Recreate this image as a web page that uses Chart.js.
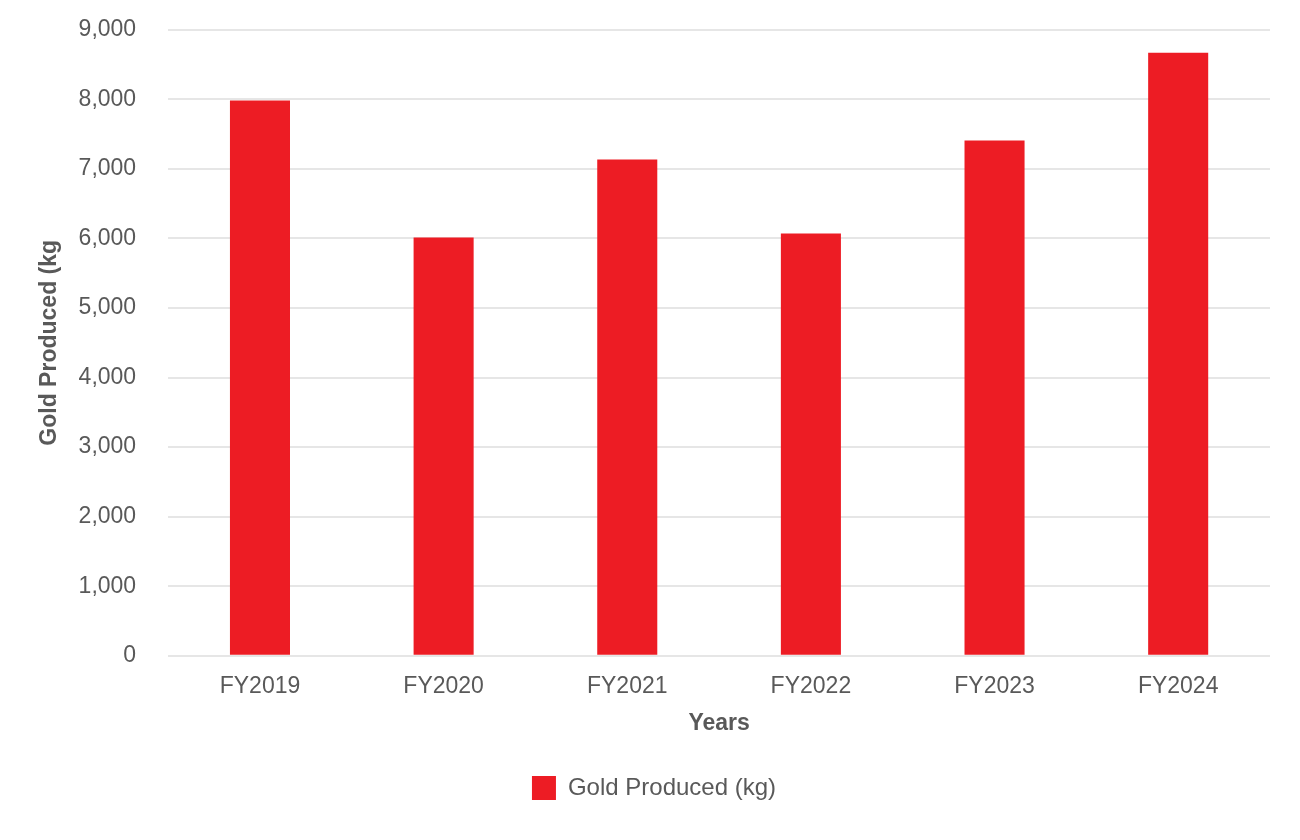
<!DOCTYPE html>
<html>
<head>
<meta charset="utf-8">
<script src="https://cdn.jsdelivr.net/npm/chart.js@4"></script>
<style>
  html, body { margin: 0; padding: 0; background: #fff; }
  #wrap { width: 1300px; height: 840px; }
</style>
</head>
<body>
<div id="wrap"><canvas id="grafico"></canvas></div>
<script>
const anos = ["FY2019", "FY2020", "FY2021", "FY2022", "FY2023", "FY2024"];
const ouroProduzido = [7985, 6015, 7135, 6070, 7410, 8670];
const serieNome = "Gold Produced (kg)";
const tituloY = "Gold Produced (kg";
const tituloX = "Years";

const corTexto = "#595959";
const fonte = "Arial, 'Liberation Sans', sans-serif";

new Chart(document.getElementById("grafico").getContext("2d"), {
  type: "bar",
  data: {
    labels: anos,
    datasets: [
      {
        label: serieNome,
        data: ouroProduzido,
        backgroundColor: "#ED1C24",
        borderWidth: 0,
        barPercentage: 0.327,
        categoryPercentage: 1,
      },
    ],
  },
  options: {
    responsive: true,
    maintainAspectRatio: false,
    animation: false,
    layout: { padding: { top: 0, right: 30, left: 38, bottom: 30 } },
    plugins: {
      tooltip: { enabled: false },
      legend: {
        position: "bottom",
        labels: {
          color: corTexto,
          font: { family: fonte, size: 24 },
          boxWidth: 24,
          boxHeight: 24,
          padding: 14,
        },
      },
    },
    scales: {
      x: {
        grid: { display: false, drawTicks: false },
        border: { display: false },
        ticks: { color: corTexto, font: { family: fonte, size: 23 }, padding: 17 },
        title: {
          display: true,
          text: tituloX,
          color: corTexto,
          font: { family: fonte, size: 23, weight: "bold" },
          padding: { top: 9, bottom: 25 },
        },
        // chart.js conta o padding dos ticks duas vezes
        afterFit: (scale) => {
          scale.height -= 17;
        },
      },
      y: {
        min: 0,
        max: 9000,
        grid: { color: "#e6e6e6", lineWidth: 2, drawTicks: false },
        border: { display: false },
        ticks: {
          stepSize: 1000,
          color: corTexto,
          font: { family: fonte, size: 23 },
          padding: 32,
          callback: (v) => v.toLocaleString("en-US"),
        },
        title: {
          display: true,
          text: tituloY,
          color: corTexto,
          font: { family: fonte, size: 23, weight: "bold" },
          padding: { top: -2, bottom: 15 },
        },
        afterFit: (scale) => {
          scale.paddingTop -= 16;
          scale.width -= 32;
        },
      },
    },
  },
});
</script>
</body>
</html>
